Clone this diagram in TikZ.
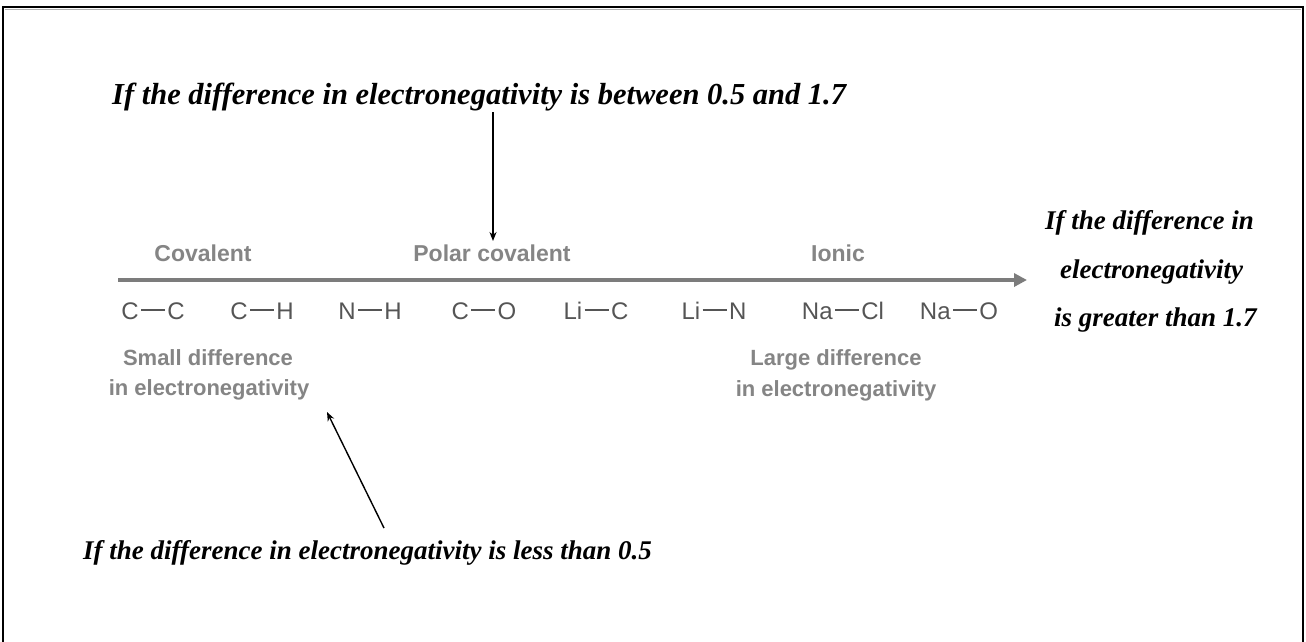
\documentclass[tikz,border=0pt]{standalone}
\usepackage{fontspec}
\setmainfont{Liberation Serif}
\setsansfont{Liberation Sans}
\usetikzlibrary{arrows.meta}
\definecolor{labgray}{HTML}{858585}
\definecolor{bondgray}{HTML}{555555}
\definecolor{axisgray}{HTML}{7C7C7C}
\newcommand{\bondtxt}[2]{#1\hspace{0.1em}\rule[0.34em]{1.0em}{1.6pt}\hspace{0.1em}#2}
\tikzset{
  cat/.style={font=\sffamily\bfseries\fontsize{23}{26}\selectfont, text=labgray, inner sep=0pt, anchor=base},
  bondlab/.style={font=\sffamily\fontsize{24}{26}\selectfont, text=bondgray, inner sep=0pt, anchor=base},
  desc/.style={font=\sffamily\bfseries\fontsize{22}{30}\selectfont, text=labgray, inner sep=0pt, align=center, anchor=base},
  note/.style={font=\rmfamily\bfseries\itshape\fontsize{30.5}{34}\selectfont, inner sep=0pt, anchor=base west},
  notesm/.style={font=\rmfamily\bfseries\itshape\fontsize{27}{30}\selectfont, inner sep=0pt, anchor=base west},
  pointer/.style={draw=black, line width=1.4pt, -{Stealth[length=9pt,width=7pt]}},
}
\begin{document}
\begin{tikzpicture}[x=1pt,y=-1pt]
\useasboundingbox (0,0) rectangle (1306,641);
\fill[white] (0,0) rectangle (1306,641);
% frame
\draw[line width=2pt] (3,660) -- (3,7) -- (1303,7) -- (1303,660);
\draw[gray!60, line width=0.8pt] (5,9.5) -- (1301,9.5);
% axis
\coordinate (axs) at (118,280);
\coordinate (axe) at (1027,280);
\draw[axisgray, line width=4pt, -{Triangle[length=13pt,width=13pt]}] (axs) -- (axe);
% categories
\node[cat] (cov) at (203,261) {Covalent};
\node[cat] (pol) at (492,261) {Polar covalent};
\node[cat] (ion) at (838,261) {Ionic};
% bonds
\node[bondlab] (b1) at (153,319) {\bondtxt{C}{C}};
\node[bondlab] (b2) at (262,319) {\bondtxt{C}{H}};
\node[bondlab] (b3) at (370,319) {\bondtxt{N}{H}};
\node[bondlab] (b4) at (484,319) {\bondtxt{C}{O}};
\node[bondlab] (b5) at (596,319) {\bondtxt{Li}{C}};
\node[bondlab] (b6) at (714,319) {\bondtxt{Li}{N}};
\node[bondlab] (b7) at (843,319) {\bondtxt{Na}{Cl}};
\node[bondlab] (b8) at (959,319) {\bondtxt{Na}{O}};
% descriptions
\node[desc] (small1) at (208,365) {Small difference};
\node[desc] (small2) at (209,395) {in electronegativity};
\node[desc] (large1) at (836,365) {Large difference};
\node[desc] (large2) at (836,396) {in electronegativity};
% notes
\node[note] (top) at (112,104) {If the difference in electronegativity is between 0.5 and 1.7};
\node[notesm] (r1) at (1045,229) {If the difference in};
\node[notesm] (r2) at (1060,278) {electronegativity};
\node[notesm] (r3) at (1054,326) {is greater than 1.7};
\node[notesm] (bot) at (83,559) {If the difference in electronegativity is less than 0.5};
% pointers
\coordinate (p1s) at (493,112);
\coordinate (p1e) at (493,241);
\draw[pointer] (p1s) -- (p1e);
\coordinate (p2s) at (384,528);
\coordinate (p2e) at (327,412);
\draw[pointer] (p2s) -- (p2e);
\end{tikzpicture}
\end{document}
